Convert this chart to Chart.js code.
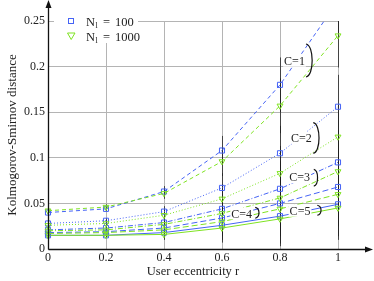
<!DOCTYPE html>
<html>
<head>
<meta charset="utf-8">
<script src="https://cdn.jsdelivr.net/npm/chart.js@4"></script>
<style>
  html, body { margin: 0; padding: 0; background: #fff; }
  canvas { display: block; }
</style>
</head>
<body>
<canvas id="chart" width="374" height="281"></canvas>
<script>
// user eccentricity r (x axis)
const eccentricity = [0, 0.2, 0.4, 0.6, 0.8, 1];
const yTicks = [0, 0.05, 0.1, 0.15, 0.2, 0.25];

// Kolmogorov-Smirnov distance, N_l = 100 (blue squares)
const c1N100 = [0.040, 0.044, 0.063, 0.108, 0.180, 0.272];
const c2N100 = [0.028, 0.031, 0.041, 0.067, 0.105, 0.156];
const c3N100 = [0.021, 0.023, 0.029, 0.044, 0.066, 0.095];
const c4N100 = [0.018, 0.019, 0.023, 0.034, 0.050, 0.068];
const c5N100 = [0.015, 0.015, 0.018, 0.026, 0.036, 0.049];

// N_l = 1000 (green triangles)
const c1N1000 = [0.042, 0.046, 0.061, 0.096, 0.157, 0.234];
const c2N1000 = [0.026, 0.028, 0.037, 0.055, 0.083, 0.123];
const c3N1000 = [0.020, 0.021, 0.027, 0.039, 0.056, 0.085];
const c4N1000 = [0.017, 0.018, 0.021, 0.030, 0.044, 0.060];
const c5N1000 = [0.015, 0.015, 0.016, 0.023, 0.033, 0.045];

// half height of the error bars at each r
const errorBars = [0.002, 0.003, 0.006, 0.016, 0.030, 0.035];

const clusterLabels = ["C=1", "C=2", "C=3", "C=4", "C=5"];

const BLUE = "#4563f5";
const GREEN = "#7fe322";
const FONT = "'Liberation Serif', 'DejaVu Serif', serif";

const dashes = [[4, 3], [1, 2], [5, 2, 1, 2], [6, 3], []];
const series100 = [c1N100, c2N100, c3N100, c4N100, c5N100];
const series1000 = [c1N1000, c2N1000, c3N1000, c4N1000, c5N1000];

function makeDataset(values, i, big) {
  return {
    label: clusterLabels[i] + (big ? " N=1000" : " N=100"),
    data: values.map((v, k) => ({ x: eccentricity[k], y: v })),
    borderColor: big ? GREEN : BLUE,
    backgroundColor: "rgba(0,0,0,0)",
    borderWidth: 1,
    borderDash: dashes[i],
    pointStyle: big ? "triangle" : "rect",
    pointRotation: big ? 180 : 0,
    pointRadius: big ? 3.4 : 3.6,
    pointBorderWidth: 1,
    pointBorderColor: big ? GREEN : BLUE,
    pointBackgroundColor: "rgba(0,0,0,0)",
    tension: 0,
    clip: { left: 8, right: 8, top: 0, bottom: 8 },
  };
}

const datasets = [];
for (let i = 0; i < 5; i++) {
  datasets.push(makeDataset(series1000[i], i, true));
  datasets.push(makeDataset(series100[i], i, false));
}

// label + bracket for each C group, in data coords
const notes = [
  { text: "C=1", x: 0.85, y: 0.2065, bx: 0.893, y1: 0.2248, y2: 0.1886 },
  { text: "C=2", x: 0.874, y: 0.122, bx: 0.918, y1: 0.1385, y2: 0.105 },
  { text: "C=3", x: 0.868, y: 0.0786, bx: 0.92, y1: 0.0874, y2: 0.069 },
  { text: "C=4", x: 0.668, y: 0.039, bx: 0.718, y1: 0.0457, y2: 0.0337 },
  { text: "C=5", x: 0.869, y: 0.042, bx: 0.932, y1: 0.048, y2: 0.037 },
];

const errorPlugin = {
  id: "errorBars",
  beforeDatasetsDraw(chart) {
    const { ctx, chartArea, scales } = chart;
    ctx.save();
    ctx.beginPath();
    ctx.rect(chartArea.left - 2, chartArea.top, chartArea.right - chartArea.left + 4, chartArea.bottom - chartArea.top);
    ctx.clip();
    ctx.strokeStyle = "rgba(30,30,30,0.75)";
    ctx.lineWidth = 1;
    chart.data.datasets.forEach((ds) => {
      ds.data.forEach((p, k) => {
        const e = errorBars[k];
        const x = Math.round(scales.x.getPixelForValue(p.x)) + 0.5;
        ctx.beginPath();
        ctx.moveTo(x, scales.y.getPixelForValue(p.y - e));
        ctx.lineTo(x, scales.y.getPixelForValue(p.y + e));
        ctx.stroke();
      });
    });
    ctx.restore();
  },
};

const decorPlugin = {
  id: "decor",
  afterDraw(chart) {
    const { ctx, chartArea, scales } = chart;
    const x0 = chartArea.left + 0.5;
    const y0 = chartArea.bottom + 0.5;

    // notes with brackets
    ctx.save();
    ctx.font = "12px " + FONT;
    ctx.textAlign = "center";
    ctx.textBaseline = "middle";
    notes.forEach((n) => {
      const tx = scales.x.getPixelForValue(n.x);
      const ty = scales.y.getPixelForValue(n.y);
      const w = ctx.measureText(n.text).width;
      ctx.fillStyle = "#fff";
      ctx.fillRect(tx - w / 2 - 1, ty - 6, w + 2, 12);
      ctx.fillStyle = "#222";
      ctx.fillText(n.text, tx, ty + 1);
      const bx = scales.x.getPixelForValue(n.bx);
      const by1 = scales.y.getPixelForValue(n.y1);
      const by2 = scales.y.getPixelForValue(n.y2);
      const bulge = Math.max(4, (by2 - by1) * 0.22);
      ctx.strokeStyle = "#111";
      ctx.lineWidth = 1.2;
      ctx.beginPath();
      ctx.moveTo(bx - 1, by1);
      ctx.bezierCurveTo(bx + bulge, by1 + 1, bx + bulge, by2 - 1, bx - 1, by2);
      ctx.stroke();
    });
    ctx.restore();

    // legend
    ctx.save();
    ctx.fillStyle = "#fff";
    ctx.fillRect(54, 13, 84, 30);
    ctx.lineWidth = 1;
    ctx.strokeStyle = BLUE;
    ctx.strokeRect(68.5, 18.5, 5, 5);
    ctx.strokeStyle = GREEN;
    ctx.beginPath();
    ctx.moveTo(67.5, 33);
    ctx.lineTo(75, 33);
    ctx.lineTo(71.2, 39.5);
    ctx.closePath();
    ctx.stroke();
    ctx.fillStyle = "#222";
    ctx.textBaseline = "alphabetic";
    [["100", 25.5], ["1000", 40.5]].forEach(([n, by]) => {
      ctx.font = "12.5px " + FONT;
      ctx.fillText("N", 86, by);
      ctx.font = "8px " + FONT;
      ctx.fillText("l", 95.5, by + 2.5);
      ctx.font = "12.5px " + FONT;
      ctx.fillText("=", 103, by);
      ctx.fillText(n, 115, by);
    });
    ctx.restore();

    // axes with arrows
    ctx.save();
    ctx.strokeStyle = "#111";
    ctx.fillStyle = "#111";
    ctx.lineWidth = 1.3;
    ctx.beginPath();
    ctx.moveTo(x0, y0);
    ctx.lineTo(x0, 6);
    ctx.moveTo(x0, y0);
    ctx.lineTo(366, y0);
    ctx.stroke();
    ctx.beginPath();
    ctx.moveTo(x0, 0);
    ctx.lineTo(x0 - 3, 8);
    ctx.lineTo(x0 + 3, 8);
    ctx.closePath();
    ctx.fill();
    ctx.beginPath();
    ctx.moveTo(373, y0);
    ctx.lineTo(365, y0 - 3);
    ctx.lineTo(365, y0 + 3);
    ctx.closePath();
    ctx.fill();
    ctx.restore();
  },
};

const fmt = (v) => String(Number(v.toFixed(2)));

new Chart(document.getElementById("chart"), {
  type: "line",
  data: { datasets: datasets },
  options: {
    responsive: false,
    animation: false,
    layout: { padding: { left: 0, right: 36, top: 21, bottom: 0 } },
    plugins: { legend: { display: false }, tooltip: { enabled: false } },
    scales: {
      x: {
        type: "linear",
        min: 0,
        max: 1,
        afterFit: (s) => { s.height = 32; },
        afterBuildTicks: (s) => { s.ticks = eccentricity.map((v) => ({ value: v })); },
        ticks: { callback: fmt, padding: 2, color: "#222", font: { family: FONT, size: 12 }, maxRotation: 0 },
        grid: { color: "#b4b4b4", lineWidth: 1, drawTicks: false },
        border: { display: false },
        title: { display: true, text: "User eccentricity r", color: "#222", font: { family: FONT, size: 12.5 }, padding: { top: 0, bottom: 2 } },
      },
      y: {
        min: 0,
        max: 0.25,
        afterFit: (s) => { s.width = 48; },
        afterBuildTicks: (s) => { s.ticks = yTicks.map((v) => ({ value: v })); },
        ticks: { callback: fmt, padding: 3, color: "#222", font: { family: FONT, size: 12 } },
        grid: { color: "#b4b4b4", lineWidth: 1, drawTicks: false },
        border: { display: false },
        title: { display: true, text: "Kolmogorov-Smirnov distance", color: "#222", font: { family: FONT, size: 13 }, padding: { top: 5, bottom: 0 } },
      },
    },
  },
  plugins: [errorPlugin, decorPlugin],
});
</script>
</body>
</html>
